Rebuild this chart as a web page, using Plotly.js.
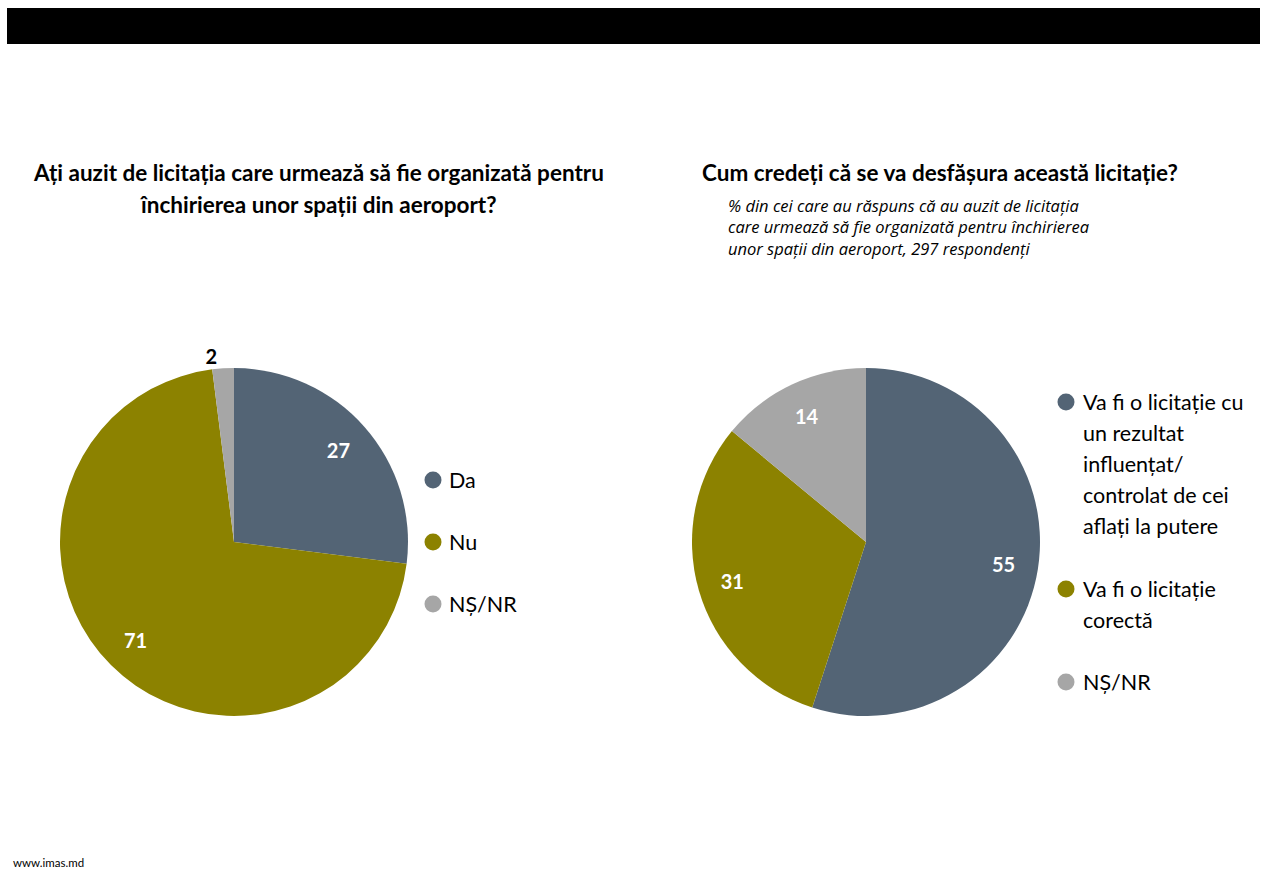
<!DOCTYPE html>
<html>
<head>
<meta charset="utf-8">
<script src="https://cdn.plot.ly/plotly-3.0.1.min.js"></script>
<style>
  html, body { margin: 0; padding: 0; background: #fff; }
  #chart { width: 1280px; height: 878px; }
</style>
</head>
<body>
<div id="chart"></div>
<script>
// Date sondaj IMAS
const leftLabels = ['Da', 'Nu', 'NȘ/NR'];
const leftValues = [27, 71, 2];
const rightLabels = [
  'Va fi o licitație cu\nun rezultat\ninfluențat/\ncontrolat de cei\naflați la putere',
  'Va fi o licitație\ncorectă',
  'NȘ/NR'
];
const rightValues = [55, 31, 14];
const sliceColors = ['#536475', '#8c8200', '#a6a6a6'];

const leftTitle = ['Ați auzit de licitația care urmează să fie organizată pentru', 'închirierea unor spații din aeroport?'];
const rightTitle = 'Cum credeți că se va desfășura această licitație?';
const rightSub = [
  '% din cei care au răspuns că au auzit de licitația',
  'care urmează să fie organizată pentru închirierea',
  'unor spații din aeroport, 297 respondenți'
];

const W = 1280, H = 878;
const FONT = 'Lato, "Open Sans", sans-serif';
const px = x => x / W;
const py = y => 1 - y / H;

function domainOf(xd, yd) {
  return { x: [px(xd[0]), px(xd[1])], y: [py(yd[1]), py(yd[0])] };
}

// felia colorată, fără text
function pieTrace(labels, values, xd, yd) {
  return {
    type: 'pie',
    labels: labels.map(l => l.replace(/\n/g, ' ')),
    values,
    sort: false,
    direction: 'clockwise',
    rotation: 0,
    marker: { colors: sliceColors, line: { width: 0 } },
    domain: domainOf(xd, yd),
    textinfo: 'none',
    hoverinfo: 'label+value',
    showlegend: false
  };
}

// inel transparent peste pie, doar pentru etichete (~0.8 din rază, ca în Excel)
function labelTrace(labels, values, xd, yd, positions) {
  return {
    type: 'pie',
    labels: labels.map(l => l.replace(/\n/g, ' ')),
    values,
    sort: false,
    direction: 'clockwise',
    rotation: 0,
    hole: 0.6,
    marker: { colors: sliceColors.map(() => 'rgba(0,0,0,0)'), line: { width: 0 } },
    domain: domainOf(xd, yd),
    textinfo: 'value',
    textposition: positions,
    insidetextorientation: 'horizontal',
    insidetextfont: { family: FONT, size: 20, color: '#ffffff', weight: 700 },
    outsidetextfont: { family: FONT, size: 20, color: '#000000', weight: 700 },
    hoverinfo: 'skip',
    showlegend: false
  };
}

const leftDom = [[60, 408], [368, 716]];
const rightDom = [[692, 1040], [368, 716]];

const traces = [
  pieTrace(leftLabels, leftValues, ...leftDom),
  pieTrace(rightLabels, rightValues, ...rightDom),
  labelTrace(leftLabels, leftValues, ...leftDom, ['inside', 'inside', 'outside']),
  labelTrace(rightLabels, rightValues, ...rightDom, ['inside', 'inside', 'inside'])
];

const annotations = [];
const shapes = [];

function text(t, x, y, opts) {
  annotations.push(Object.assign({
    text: t, x: px(x), y: py(y), xref: 'paper', yref: 'paper',
    showarrow: false, xanchor: 'left', yanchor: 'middle',
    font: { family: FONT, size: 21.5, color: '#000' }
  }, opts || {}));
}

// legenda: cerc + text pe mai multe rânduri
function legend(labels, cx, tx, ys, lineGap) {
  labels.forEach((lab, i) => {
    const r = 8.5;
    shapes.push({
      type: 'circle', xref: 'paper', yref: 'paper',
      x0: px(cx - r), x1: px(cx + r), y0: py(ys[i] + r), y1: py(ys[i] - r),
      fillcolor: sliceColors[i], line: { width: 0 }
    });
    lab.split('\n').forEach((line, j) => text(line, tx, ys[i] + j * lineGap));
  });
}

legend(leftLabels, 433, 447, [480, 542, 604], 31);
legend(rightLabels, 1066, 1081, [402, 589, 682], 31);

leftTitle.forEach((line, i) => text('<b>' + line + '</b>', 318, 172 + i * 32,
  { xanchor: 'center', font: { family: FONT, size: 22.5, color: '#000' } }));
text('<b>' + rightTitle + '</b>', 940, 172,
  { xanchor: 'center', font: { family: FONT, size: 22.5, color: '#000' } });
// subtitlul ca un singur bloc, ca să nu se suprapună rândurile
text('<i>' + rightSub.join('<br>') + '</i>', 726, 227,
  { align: 'left', font: { family: '"Open Sans", sans-serif', size: 16.5, color: '#000' } });
text('www.imas.md', 11, 862, { font: { family: FONT, size: 11.5, color: '#000' } });

// bara neagră de sus
shapes.push({
  type: 'rect', xref: 'paper', yref: 'paper',
  x0: px(7), x1: px(1260), y0: py(44), y1: py(8),
  fillcolor: '#000', line: { width: 0 }
});

Plotly.newPlot('chart', traces, {
  width: W, height: H,
  margin: { l: 0, r: 0, t: 0, b: 0 },
  paper_bgcolor: '#fff', plot_bgcolor: '#fff',
  showlegend: false,
  annotations, shapes,
  font: { family: FONT }
}, { displayModeBar: false, responsive: false });
</script>
</body>
</html>
